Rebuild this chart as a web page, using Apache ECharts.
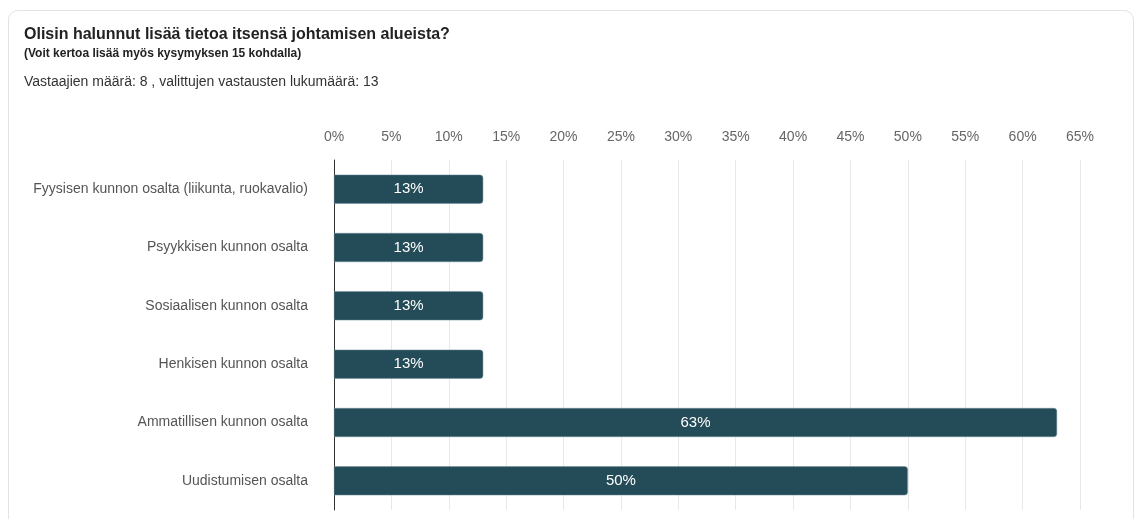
<!DOCTYPE html>
<html>
<head>
<meta charset="utf-8">
<script src="https://cdn.jsdelivr.net/npm/echarts@6/dist/echarts.min.js"></script>
<style>
  html, body { margin: 0; padding: 0; background: #fff; }
  #card {
    position: absolute; left: 8px; top: 10px; width: 1126px; height: 540px;
    border: 1.5px solid #e3e3e3; border-radius: 10px; box-sizing: border-box;
  }
  #chart { position: absolute; left: 0; top: 0; width: 1136px; height: 519px; }
</style>
</head>
<body>
<div id="card"></div>
<div id="chart"></div>
<script>
const titleText = 'Olisin halunnut lisää tietoa itsensä johtamisen alueista?'
const subText = '(Voit kertoa lisää myös kysymyksen 15 kohdalla)'
const infoText = 'Vastaajien määrä: 8 , valittujen vastausten lukumäärä: 13'

const categories = [
  'Fyysisen kunnon osalta (liikunta, ruokavalio)',
  'Psyykkisen kunnon osalta',
  'Sosiaalisen kunnon osalta',
  'Henkisen kunnon osalta',
  'Ammatillisen kunnon osalta',
  'Uudistumisen osalta',
]
const percents = [13, 13, 13, 13, 63, 50]

const chart = echarts.init(document.getElementById('chart'))

const font = 'Liberation Sans, Arial, sans-serif'

const option = {
  animation: false,
  textStyle: { fontFamily: font },
  title: [
    {
      text: titleText,
      left: 24, top: 27, padding: 0,
      textStyle: { fontSize: 16, fontWeight: 'bold', color: '#222', fontFamily: font },
    },
    {
      text: subText,
      left: 24, top: 48, padding: 0,
      textStyle: { fontSize: 12, fontWeight: 'bold', color: '#222', fontFamily: font },
    },
    {
      text: infoText,
      left: 24, top: 75, padding: 0,
      textStyle: { fontSize: 14, fontWeight: 'normal', color: '#333', fontFamily: font },
    },
  ],
  grid: { left: 334, right: 56, top: 160, bottom: 9, containLabel: false },
  xAxis: {
    type: 'value',
    position: 'top',
    min: 0,
    max: 65,
    interval: 5,
    axisLine: { show: false },
    axisTick: { show: false },
    axisLabel: {
      formatter: '{value}%',
      color: '#666',
      fontSize: 14,
      margin: 16,
      fontFamily: font,
    },
    splitLine: { lineStyle: { color: '#e8e8e8', width: 1 } },
  },
  yAxis: {
    type: 'category',
    data: categories,
    inverse: true,
    axisLine: { show: true, lineStyle: { color: '#333', width: 1 } },
    axisTick: { show: false },
    axisLabel: { color: '#555', fontSize: 14, margin: 26, fontFamily: font },
  },
  series: [
    {
      type: 'bar',
      data: percents,
      barWidth: 29,
      itemStyle: {
        color: '#234b58',
        borderRadius: [0, 3, 3, 0],
        borderColor: '#6f8f99',
        borderWidth: 0.5,
      },
      label: {
        show: true,
        position: 'inside',
        formatter: '{c}%',
        color: '#fff',
        fontSize: 15,
        fontFamily: font,
      },
    },
  ],
}

chart.setOption(option)
</script>
</body>
</html>
